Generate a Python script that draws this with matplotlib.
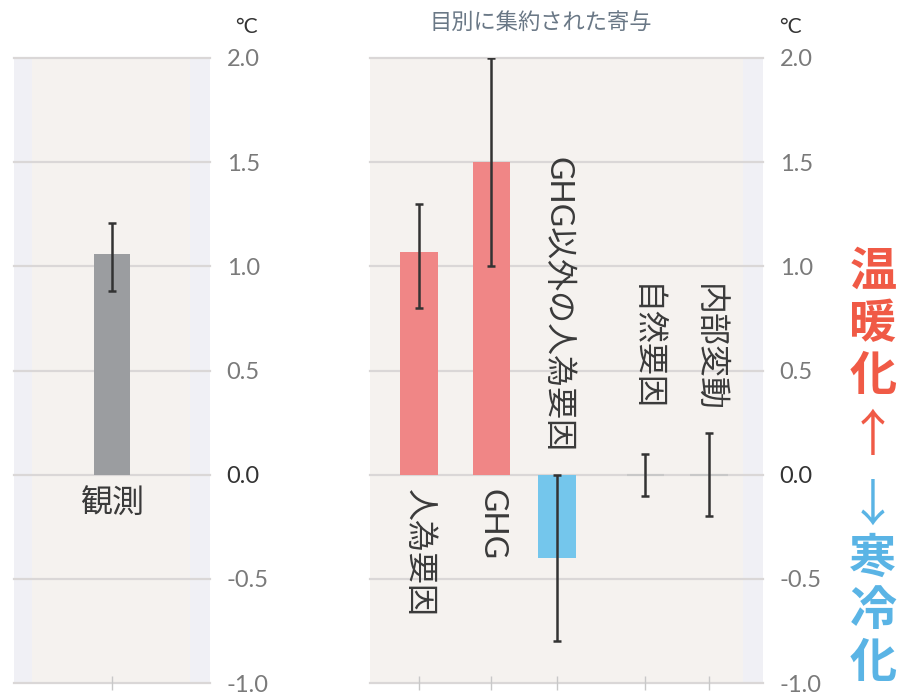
import matplotlib.pyplot as plt
from matplotlib.patches import Rectangle

plt.rcParams["font.family"] = ["Lato", "Noto Sans CJK JP", "DejaVu Sans"]

# observed warming
OBS_LABEL = "観測"
OBS_VALUE = 1.06
OBS_LOW, OBS_HIGH = 0.88, 1.21

# contributions aggregated by category
CATEGORIES = ["人為要因", "GHG", "GHG以外の人為要因", "自然要因", "内部変動"]
VALUES = [1.07, 1.50, -0.40, 0.0, 0.0]
LOWS = [0.80, 1.00, -0.80, -0.10, -0.20]
HIGHS = [1.30, 2.00, 0.00, 0.10, 0.20]

YTICKS = [-1.0, -0.5, 0.0, 0.5, 1.0, 1.5, 2.0]

# layout
XPOS = [0.0, 1.03, 1.97, 3.23, 4.14]
LABEL_ANCHOR = [(-0.07, "top"), (-0.07, "top"), (0.11, "bottom"),
                (0.30, "bottom"), (0.30, "bottom")]
RED = "#f08686"
BLUE = "#74c6ec"
GRAY = "#9b9da0"
TEXT = "#3a3a3a"
W, H = 897, 693


def style_axes(ax, band):
    ax.set_facecolor("#f0f0f5")
    ax.add_patch(Rectangle((band[0], 0), band[1] - band[0], 1,
                           transform=ax.transAxes, color="#f5f2ef",
                           zorder=0, lw=0))
    for s in ax.spines.values():
        s.set_visible(False)
    ax.set_ylim(-1.0, 2.0)
    for y in YTICKS:
        ax.axhline(y, color="#dad7d7", lw=1.6, zorder=1, clip_on=False)
    ax.yaxis.tick_right()
    ax.set_yticks(YTICKS)
    ax.set_yticklabels([f"{y:.1f}" for y in YTICKS])
    ax.tick_params(axis="y", length=0, pad=12, labelsize=17, labelcolor="#7a7a7a")
    ax.get_yticklabels()[2].set_color("#333333")
    ax.tick_params(axis="x", direction="inout", length=10, width=1,
                   color="#c8c8c8", labelbottom=False)


fig = plt.figure(figsize=(W / 100, H / 100), dpi=100)
ax1 = fig.add_axes([14 / W, 10 / H, 196 / W, 625 / H])
ax2 = fig.add_axes([370 / W, 10 / H, 393 / W, 625 / H])

# left: observed
style_axes(ax1, (0.092, 0.898))
ax1.set_xlim(-0.5, 0.5)
ax1.bar([0], [OBS_VALUE], width=0.18, color=GRAY, zorder=2)
ax1.errorbar([0], [OBS_VALUE],
             yerr=[[OBS_VALUE - OBS_LOW], [OBS_HIGH - OBS_VALUE]],
             fmt="none", ecolor="#333333", elinewidth=1.8, capsize=3,
             capthick=1.8, zorder=3)
ax1.set_xticks([0])
ax1.text(0, -0.07, OBS_LABEL, ha="center", va="top", fontsize=23, color=TEXT)

# right: contributions
style_axes(ax2, (0.0, 0.949))
ax2.set_xlim(-0.7, 4.91)
colors = [RED if v > 0 else BLUE if v < 0 else "#c8c8c8" for v in VALUES]
ax2.bar(XPOS, VALUES, width=0.53, color=colors, edgecolor=colors,
        lw=[0 if v else 1.5 for v in VALUES], zorder=2)
ax2.errorbar(XPOS, VALUES,
             yerr=[[v - lo for v, lo in zip(VALUES, LOWS)],
                   [hi - v for v, hi in zip(VALUES, HIGHS)]],
             fmt="none", ecolor="#333333", elinewidth=1.8, capsize=3,
             capthick=1.8, zorder=3)
ax2.set_xticks(XPOS)
for x, name, (y, va) in zip(XPOS, CATEGORIES, LABEL_ANCHOR):
    ax2.text(x, y, name, rotation=-90, ha="center", va=va, fontsize=23,
             color=TEXT, zorder=4)

fig.text(541 / W, 1 - 22 / H, "目別に集約された寄与", ha="center", va="center",
         fontsize=16, color="#6a7886")
for xc in (246, 790):
    fig.text(xc / W, 1 - 27 / H, "°C", ha="center", va="center",
             fontsize=15, color="#333333")

# warming / cooling key on the right edge
fig.text(873 / W, 1 - 248 / H, "温\n暖\n化", ha="center", va="top",
         fontsize=34, fontweight="bold", color="#f05a46", linespacing=1.1,
         family="Noto Sans CJK JP")
fig.text(873 / W, 1 - 437 / H, "↑", ha="center", va="center",
         fontsize=36, color="#f05a46", family="Noto Sans CJK JP")
fig.text(873 / W, 1 - 507 / H, "↓", ha="center", va="center",
         fontsize=36, color="#5ab4e5", family="Noto Sans CJK JP")
fig.text(873 / W, 1 - 535 / H, "寒\n冷\n化", ha="center", va="top",
         fontsize=34, fontweight="bold", color="#5ab4e5", linespacing=1.1,
         family="Noto Sans CJK JP")

fig.savefig("out.png", dpi=100)
